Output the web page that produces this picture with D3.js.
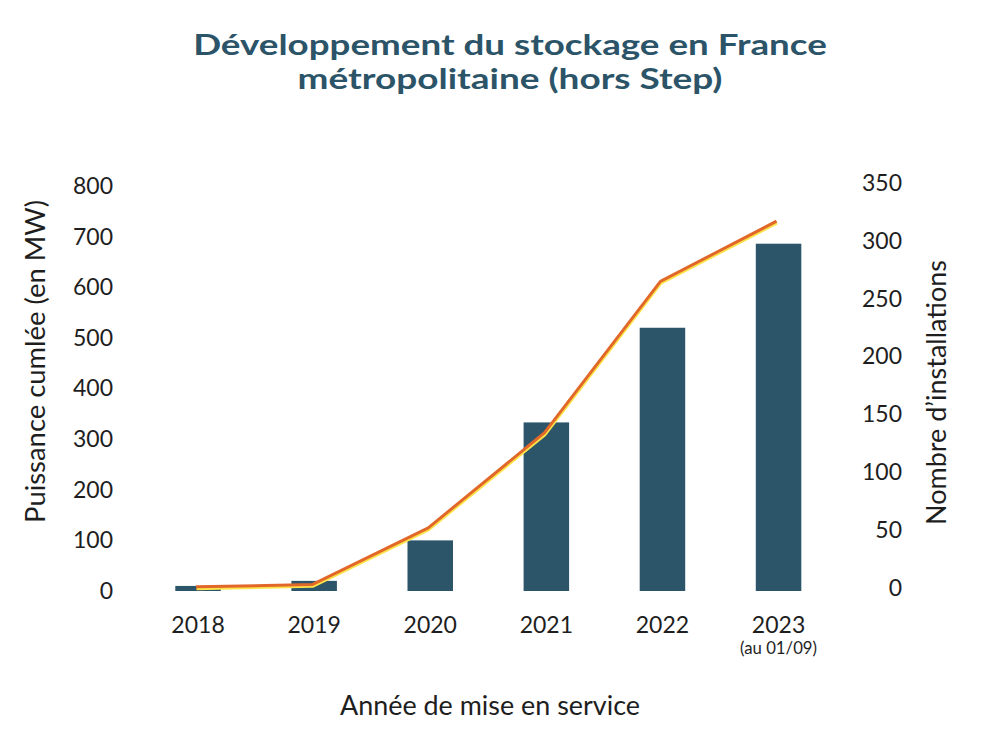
<!DOCTYPE html>
<html><head><meta charset="utf-8">
<script src="https://cdn.jsdelivr.net/npm/d3@7"></script>
<style>body{margin:0;background:#fff} svg text{font-family:Lato, "Open Sans", sans-serif}</style>
</head><body><svg id="c" width="991" height="737"></svg>
<script>
const years = ["2018", "2019", "2020", "2021", "2022", "2023"];
const powerMW = [10, 20, 100, 333, 520, 686];
const installations = [1, 3, 52, 134, 265, 317];
const leftTicks = [0, 100, 200, 300, 400, 500, 600, 700, 800];
const rightTicks = [0, 50, 100, 150, 200, 250, 300, 350];
const titleLines = ["Développement du stockage en France", "métropolitaine (hors Step)"];
const yLeftTitle = "Puissance cumlée (en MW)";
const yRightTitle = "Nombre d\u2019installations";
const xTitle = "Année de mise en service";
const lastYearNote = "(au 01/09)";

const svg = d3.select("#c");
const W = 991, H = 737;
svg.append("rect").attr("width", W).attr("height", H).attr("fill", "#fff");

const x = d3.scaleBand().domain(years).range([140, 836.6]).paddingInner(0.608).paddingOuter(0.304);
const yL = d3.scaleLinear().domain([0, 800]).range([591, 186]);
const yR = d3.scaleLinear().domain([0, 350]).range([588, 183]);

const barColor = "#2C5569", titleColor = "#2C5468", textColor = "#1e1e1e";

function fit(sel, target) {
  const w = sel.node().getComputedTextLength();
  const fs = parseFloat(sel.attr("font-size"));
  const nfs = fs * target / w;
  sel.attr("font-size", nfs);
  return nfs;
}
function stretch(sel, cx, cy, target) {
  const w = sel.node().getComputedTextLength();
  sel.attr("transform", `translate(${cx},${cy}) scale(${target / w},1)`);
}

// Title (horizontally stretched to match the wide geometric face of the reference)
const t1 = svg.append("text").attr("text-anchor", "middle")
  .attr("font-size", 29.5).attr("font-weight", 700).attr("fill", titleColor).text(titleLines[0]);
stretch(t1, 510, 54.5, 634);
const t2 = svg.append("text").attr("text-anchor", "middle")
  .attr("font-size", 29.5).attr("font-weight", 700).attr("fill", titleColor).text(titleLines[1]);
stretch(t2, 510, 89, 425);

// Bars
svg.append("g").selectAll("rect").data(years).join("rect")
  .attr("x", d => x(d)).attr("width", x.bandwidth())
  .attr("y", (d, i) => yL(powerMW[i])).attr("height", (d, i) => yL(0) - yL(powerMW[i]))
  .attr("fill", barColor);

// Line (yellow shadow + orange)
const pts = years.map((d, i) => [x(d) + x.bandwidth() / 2 - 2, yR(installations[i])]);
const line = d3.line();
svg.append("path").attr("d", line(pts)).attr("fill", "none").attr("stroke", "#FCE34A")
  .attr("stroke-width", 3).attr("transform", "translate(0.5,1.8)").attr("stroke-linejoin", "round");
svg.append("path").attr("d", line(pts)).attr("fill", "none").attr("stroke", "#E2682A")
  .attr("stroke-width", 3).attr("stroke-linejoin", "round");

// Axes
function styleAxis(g) {
  g.select(".domain").remove();
  g.selectAll("text").attr("font-size", 23).attr("fill", textColor).attr("font-family", "Lato, sans-serif");
}
svg.append("g").attr("transform", "translate(113,0)")
  .call(d3.axisLeft(yL).tickValues(leftTicks).tickSize(0).tickPadding(0)).call(styleAxis);
svg.append("g").attr("transform", "translate(902,0)")
  .call(d3.axisLeft(yR).tickValues(rightTicks).tickSize(0).tickPadding(0)).call(styleAxis);
svg.append("g").attr("transform", "translate(0,617)")
  .call(d3.axisBottom(x).tickSize(0).tickPadding(0)).call(styleAxis);

const note = svg.append("text").attr("x", x("2023") + x.bandwidth() / 2).attr("y", 654).attr("text-anchor", "middle")
  .attr("font-size", 15).attr("fill", textColor).text(lastYearNote);
fit(note, 77);

// Axis titles
const yl = svg.append("text").attr("transform", "translate(45,361.5) rotate(-90)").attr("text-anchor", "middle")
  .attr("font-size", 23).attr("fill", textColor).text(yLeftTitle);
fit(yl, 323);
const yr = svg.append("text").attr("transform", "translate(946,392.5) rotate(-90)").attr("text-anchor", "middle")
  .attr("font-size", 23).attr("fill", textColor).text(yRightTitle);
fit(yr, 265);
const xt = svg.append("text").attr("x", 490).attr("y", 715).attr("text-anchor", "middle")
  .attr("font-size", 23).attr("fill", textColor).text(xTitle);
fit(xt, 300);
</script>
</body></html>
